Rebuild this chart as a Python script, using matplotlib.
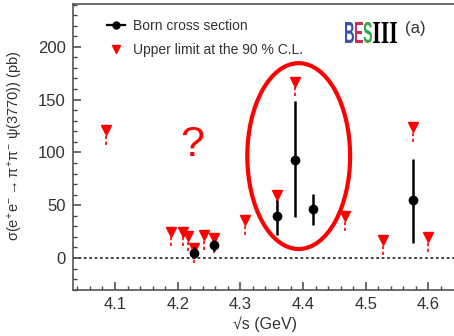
import numpy as np
import matplotlib
matplotlib.use('Agg')
import matplotlib.pyplot as plt
from matplotlib.lines import Line2D
from matplotlib.patches import Ellipse, PathPatch
from matplotlib.textpath import TextPath
from matplotlib.font_manager import FontProperties
from matplotlib.transforms import Affine2D

plt.rcParams['font.family'] = ['Liberation Sans', 'DejaVu Sans']
plt.rcParams['mathtext.fontset'] = 'custom'
plt.rcParams['mathtext.rm'] = 'Liberation Sans'
plt.rcParams['mathtext.it'] = 'Liberation Sans'
plt.rcParams['mathtext.bf'] = 'Liberation Sans:bold'

# Born cross section measurements (pb)
born_energy = [4.226, 4.258, 4.358, 4.387, 4.416, 4.575]
born_sigma = [5, 12, 40, 93, 46, 55]
born_err_low = [5, 5, 18, 54, 15, 41]
born_err_high = [5, 5, 15, 56, 15, 39]

# Upper limits at the 90% C.L. (pb)
ul_energy = [4.085, 4.189, 4.208, 4.217, 4.226, 4.242, 4.258,
             4.308, 4.358, 4.387, 4.467, 4.527, 4.575, 4.600]
ul_sigma = [121, 25, 25, 21, 9.5, 22, 19, 36, 60, 167, 40, 17, 124, 20]

# highlighted region around the 4.39 GeV enhancement
ring_center = (4.393, 96.5)
ring_width = 0.164
ring_height = 176

W, H = 454, 336
fig = plt.figure(figsize=(W / 100, H / 100), dpi=100)
ax = fig.add_axes([72.7 / W, (H - 289.7) / H, (W - 72.7) / W, 285.7 / H])

ax.set_xlim(4.0325, 4.6407)
ax.set_ylim(-30, 240.5)

# zero line
ax.axhline(0, color='#333333', lw=1.3, ls=(0, (1.5, 1.5)), zorder=1)

# upper limits: downward triangles with a dashed tail
ul_tail = 14
ax.vlines(ul_energy, np.array(ul_sigma) - ul_tail, ul_sigma, colors='red',
          lw=1.2, linestyles=(0, (2, 1.5)), zorder=2)
ax.plot(ul_energy, ul_sigma, ls='none', marker='v', ms=6.5, color='red',
        mec='red', zorder=3)

# Born cross sections
ax.errorbar(born_energy, born_sigma, yerr=[born_err_low, born_err_high],
            fmt='o', color='black', ms=6, elinewidth=1.8, capsize=0, zorder=4)

# annotations
ax.add_patch(Ellipse(ring_center, ring_width, ring_height, fill=False,
                     edgecolor='red', lw=3, zorder=5))
ax.text(4.223, 107, '?', color='red', fontsize=31, ha='center', va='center')

# axes styling
for side in ['left', 'bottom', 'top']:
    ax.spines[side].set_color('#555555')
    ax.spines[side].set_linewidth(1.2)
ax.spines['right'].set_visible(False)
ax.set_xticks(np.arange(4.1, 4.61, 0.1))
ax.set_xticks(np.arange(4.04, 4.64, 0.02), minor=True)
ax.set_yticks([0, 50, 100, 150, 200])
ax.set_yticks(np.arange(-30, 241, 10), minor=True)
ax.tick_params(which='both', direction='in', top=False, right=False,
               color='#444444', labelcolor='#333333')
ax.tick_params(which='major', length=6, width=1.1, labelsize=12, pad=5)
ax.tick_params(which='minor', length=3, width=1.0)
ax.set_xticklabels(['4.1', '4.2', '4.3', '4.4', '4.5', '4.6'])

ax.set_xlabel('√s (GeV)', fontsize=11.5, color='#333333')
ax.xaxis.set_label_coords(0.505, -0.095)
ax.set_ylabel(r'$\sigma(e^{+}e^{-}\rightarrow\pi^{+}\pi^{-}\ \psi(3770))$ (pb)',
              fontsize=10.5, color='#333333')
ax.yaxis.set_label_coords(-0.125, 0.505)

handles = [Line2D([], [], color='black', marker='o', ms=5, lw=1.6),
           Line2D([], [], color='red', marker='v', ms=6, ls='none')]
ax.legend(handles, ['Born cross section', 'Upper limit at the 90 % C.L.'],
          loc='upper left', bbox_to_anchor=(0.09, 0.947), frameon=False,
          fontsize=10, handlelength=1.3, handletextpad=0.6,
          labelspacing=0.7, borderpad=0, borderaxespad=0,
          labelcolor='#333333')


# experiment logo, letters squeezed into fixed pixel boxes
def logo_letter(text, color, x0, x1, y_top, y_bot, family='Liberation Sans'):
    tp = TextPath((0, 0), text, size=20,
                  prop=FontProperties(family=family, weight='bold'))
    ext = tp.get_extents()
    tr = (Affine2D().translate(-ext.x0, -ext.y0)
          .scale((x1 - x0) / ext.width, (y_bot - y_top) / ext.height)
          .translate(x0, H - y_bot))
    fig.add_artist(PathPatch(tp, transform=tr, facecolor=color, lw=0))


logo_letter('B', '#3a55a8', 345, 354, 22, 43)
logo_letter('E', '#c8305a', 354.5, 363, 22, 43)
logo_letter('S', '#2fa84a', 363.5, 372, 22, 43)
logo_letter('III', 'black', 373, 397, 22, 43, family='Liberation Serif')
fig.text(405 / W, 1 - 28 / H, '(a)', fontsize=12, color='#333333',
         va='center', ha='left')

fig.savefig('out.png', dpi=100)
